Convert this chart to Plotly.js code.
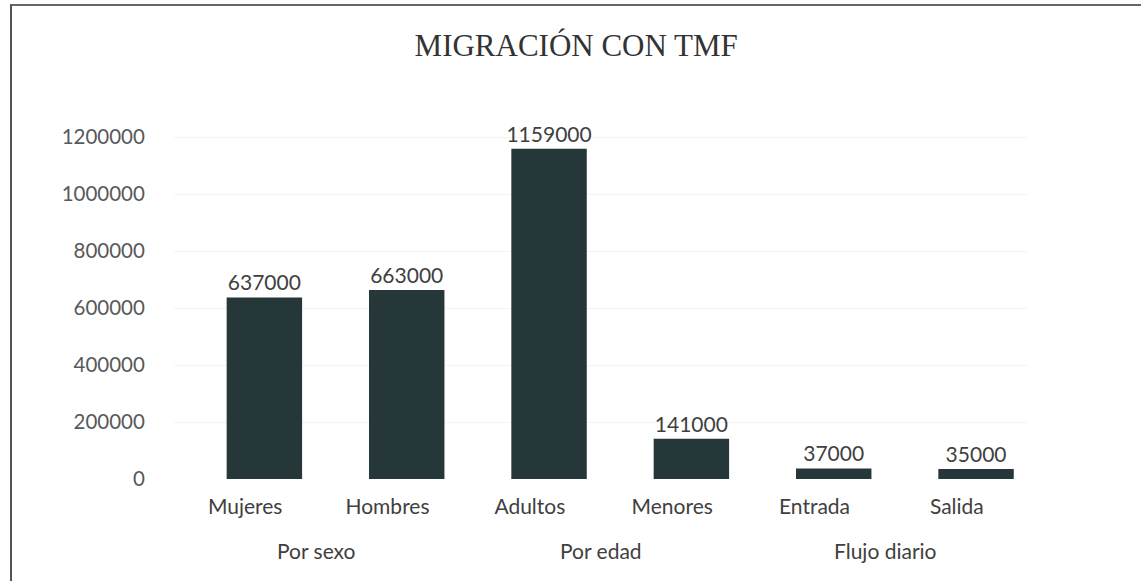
<!DOCTYPE html>
<html>
<head>
<meta charset="utf-8">
<script src="https://cdn.plot.ly/plotly-3.0.1.min.js"></script>
<style>
  html, body { margin: 0; padding: 0; background: #ffffff; }
  #frame { position: absolute; left: 10px; top: 4px; width: 1131px; height: 577px; border-left: 2px solid #555; border-top: 2px solid #666; box-sizing: border-box; pointer-events: none; }
  #chart { position: absolute; left: 0; top: 0; width: 1141px; height: 581px; }
</style>
</head>
<body>
<div id="chart"></div>
<div id="frame"></div>
<script>
const groups = ["Por sexo", "Por sexo", "Por edad", "Por edad", "Flujo diario", "Flujo diario"];
const categories = ["Mujeres", "Hombres", "Adultos", "Menores", "Entrada", "Salida"];
const values = [637000, 663000, 1159000, 141000, 37000, 35000];
const yTicks = [0, 200000, 400000, 600000, 800000, 1000000, 1200000];

const labelFont = { family: "Lato, 'Open Sans', sans-serif", size: 21, color: "#404040" };

const trace = {
  type: "bar",
  x: categories,
  y: values,
  width: 0.53,
  offset: -0.13,
  marker: { color: "#26373a", line: { width: 0 } },
  texttemplate: "%{y:.0f}",
  textposition: "outside",
  constraintext: "none",
  cliponaxis: false,
  textfont: labelFont,
  hoverinfo: "x+y"
};

// group labels centred under their categories
const groupNames = [...new Set(groups)];
const groupAnnotations = groupNames.map(g => {
  const idx = groups.map((v, i) => v === g ? i : -1).filter(i => i >= 0);
  const mid = idx.reduce((a, b) => a + b, 0) / idx.length;
  return {
    xref: "x", yref: "paper", x: mid, y: 0,
    yanchor: "middle", xanchor: "center",
    yshift: -71, showarrow: false,
    text: g, font: labelFont
  };
});

const layout = {
  width: 1141,
  height: 581,
  margin: { l: 174, r: 113, t: 100, b: 102 },
  paper_bgcolor: "#ffffff",
  plot_bgcolor: "#ffffff",
  title: {
    text: "MIGRACIÓN CON TMF",
    font: { family: "'Liberation Serif', 'DejaVu Serif', serif", size: 31, color: "#333333" },
    x: 0.505, xanchor: "center", xref: "container", y: 0.922, yanchor: "middle"
  },
  showlegend: false,
  xaxis: {
    type: "category",
    range: [-0.5, 5.5],
    showline: false,
    ticks: "outside",
    ticklen: 9,
    tickcolor: "rgba(0,0,0,0)",
    showgrid: false,
    tickfont: labelFont
  },
  yaxis: {
    range: [0, 1330000],
    tickvals: yTicks,
    ticktext: yTicks.map(String),
    showgrid: true,
    gridcolor: "#f4f4f4",
    zeroline: false,
    showline: false,
    ticks: "outside",
    ticklen: 24,
    tickcolor: "rgba(0,0,0,0)",
    tickfont: { family: "Lato, 'Open Sans', sans-serif", size: 20.5, color: "#595959" }
  },
  annotations: groupAnnotations
};

Plotly.newPlot("chart", [trace], layout, { displayModeBar: false, staticPlot: true });
</script>
</body>
</html>
